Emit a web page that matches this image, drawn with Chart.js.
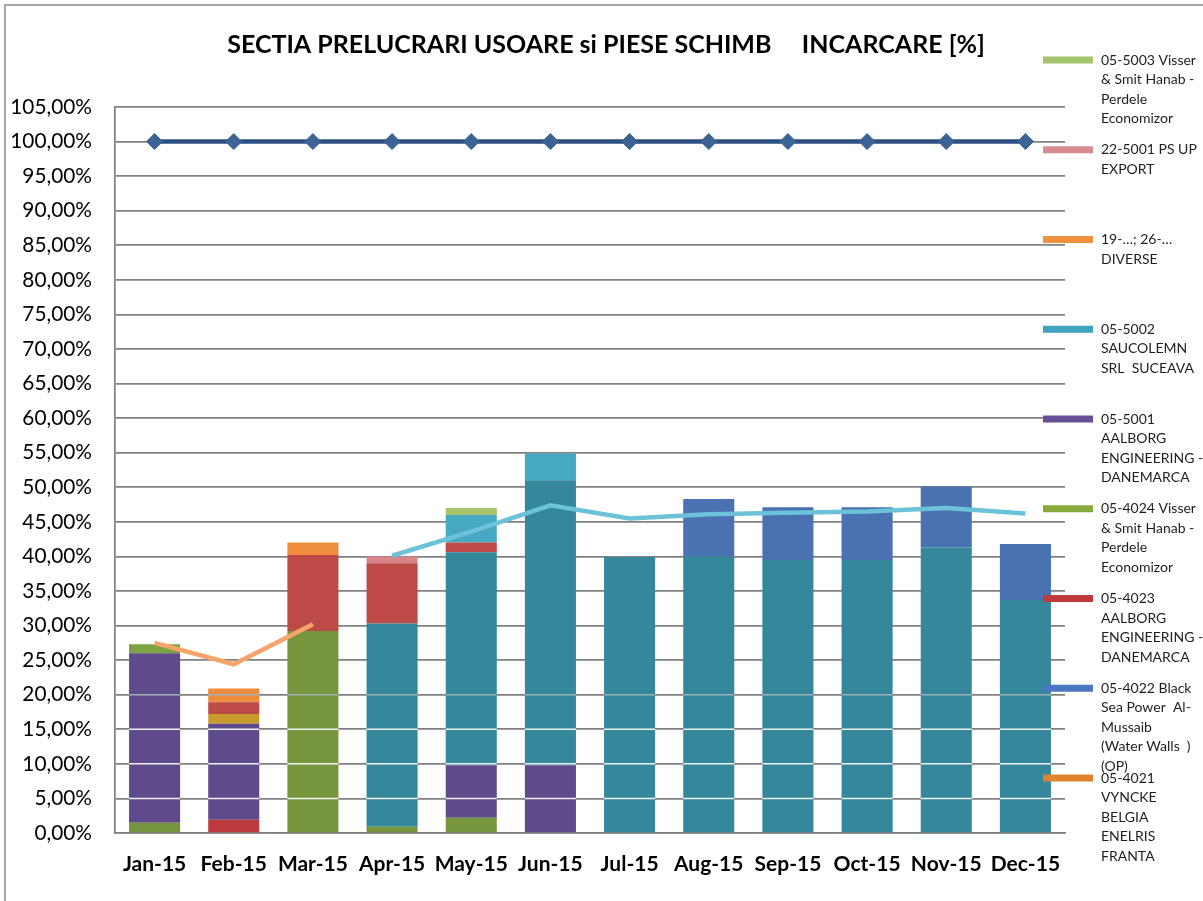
<!DOCTYPE html>
<html>
<head>
<meta charset="utf-8">
<script src="https://cdn.jsdelivr.net/npm/chart.js@4.4.1/dist/chart.umd.min.js"></script>
<style>
  html, body { margin: 0; padding: 0; background: #fff; }
</style>
</head>
<body>
<canvas id="chart" width="1203" height="901"></canvas>
<script>
const months = ['Jan-15', 'Feb-15', 'Mar-15', 'Apr-15', 'May-15', 'Jun-15', 'Jul-15', 'Aug-15', 'Sep-15', 'Oct-15', 'Nov-15', 'Dec-15'];

// stacked columns, bottom to top (% load)
const red4023Low = [0, 1.9, 0, 0, 0, 0, 0, 0, 0, 0, 0, 0];
const green4024 = [1.5, 0, 29.2, 0.9, 2.2, 0, 0, 0, 0, 0, 0, 0];
const purple5001 = [24.5, 13.9, 0, 0, 7.6, 9.8, 0, 0, 0, 0, 0, 0];
const vyncke4021 = [0, 1.4, 0, 0, 0, 0, 0, 0, 0, 0, 0, 0];
const tealBase = [0, 0, 0, 29.4, 30.8, 41.2, 39.9, 40.0, 39.5, 39.5, 41.3, 33.7];
const blue4022 = [0, 0, 0, 0, 0, 0, 0, 8.3, 7.6, 7.6, 8.8, 8.1];
const red4023 = [0, 1.7, 11.0, 8.7, 1.4, 0, 0, 0, 0, 0, 0, 0];
const teal5002 = [0, 0, 0, 0, 4.0, 3.9, 0, 0, 0, 0, 0, 0];
const diverse = [0, 2.0, 1.8, 0, 0, 0, 0, 0, 0, 0, 0, 0];
const export5001 = [0, 0, 0, 1.0, 0, 0, 0, 0, 0, 0, 0, 0];
const visser5003 = [1.3, 0, 0, 0, 1.0, 0, 0, 0, 0, 0, 0, 0];

// lines
const capacity = [100, 100, 100, 100, 100, 100, 100, 100, 100, 100, 100, 100];
const loadQ1 = [27.5, 24.4, 30.2, null, null, null, null, null, null, null, null, null];
const loadRest = [null, null, null, 40.1, 43.6, 47.4, 45.5, 46.1, 46.3, 46.5, 47.0, 46.2];

// legend text, top to bottom as in the picture
const legendEntries = [
  { key: 'v5003', lines: ['05-5003 Visser', '& Smit Hanab -', 'Perdele', 'Economizor'] },
  { key: 'e5001', lines: ['22-5001 PS UP', 'EXPORT'] },
  { key: 'div', lines: ['19-\u2026; 26-\u2026', 'DIVERSE'] },
  { key: 't5002', lines: ['05-5002', 'SAUCOLEMN', 'SRL  SUCEAVA'] },
  { key: 'p5001', lines: ['05-5001', 'AALBORG', 'ENGINEERING -', 'DANEMARCA'] },
  { key: 'g4024', lines: ['05-4024 Visser', '& Smit Hanab -', 'Perdele', 'Economizor'] },
  { key: 'r4023', lines: ['05-4023', 'AALBORG', 'ENGINEERING -', 'DANEMARCA'] },
  { key: 'b4022', lines: ['05-4022 Black', 'Sea Power  Al-', 'Mussaib', '(Water Walls  )', '(OP)'] },
  { key: 'v4021', lines: ['05-4021', 'VYNCKE', 'BELGIA', 'ENELRIS', 'FRANTA'] }
];

const legendColors = {
  v5003: '#a3c46c', e5001: '#d98c90', div: '#f0913d', t5002: '#3fa5bf', p5001: '#674f98',
  g4024: '#86ab3c', r4023: '#c0393b', b4022: '#4a77c4', v4021: '#e0832c'
};

const FONT = 'Lato';

function bar(key, data, color) {
  return { type: 'bar', key: key, label: key, data: data, backgroundColor: color, borderWidth: 0, order: 1, yAxisID: 'y' };
}

const datasets = [
  bar('r4023low', red4023Low, '#bc3b3e'),
  bar('g4024', green4024, '#77953d'),
  bar('p5001', purple5001, '#5f4a8b'),
  bar('v4021', vyncke4021, '#c99a2e'),
  bar('base', tealBase, '#35889b'),
  bar('b4022', blue4022, '#4a72b2'),
  bar('r4023', red4023, '#bd4a47'),
  bar('t5002', teal5002, '#47a8c3'),
  bar('div', diverse, '#ee8e3c'),
  bar('e5001', export5001, '#d6868a'),
  bar('v5003', visser5003, ['#7ba342', '#a8c46a', '#a8c46a', '#a8c46a', '#a8c46a', '#a8c46a', '#a8c46a', '#a8c46a', '#a8c46a', '#a8c46a', '#a8c46a', '#a8c46a']),
  {
    type: 'line', label: 'capacity', data: capacity, yAxisID: 'y2', order: 0,
    borderColor: '#2c5081', borderWidth: 4.5, pointStyle: 'rectRot', pointRadius: 8,
    pointBackgroundColor: '#3b6396', pointBorderColor: '#3b6396', pointBorderWidth: 1
  },
  {
    type: 'line', label: 'loadQ1', data: loadQ1, yAxisID: 'y2', order: 0,
    borderColor: '#f7a46c', borderWidth: 4.5, pointRadius: 0
  },
  {
    type: 'line', label: 'loadRest', data: loadRest, yAxisID: 'y2', order: 0,
    borderColor: '#6cc2d9', borderWidth: 4.5, pointRadius: 0
  }
];

// frame, title, grid glitches over the columns, side legend
const framePlugin = {
  id: 'frame',
  beforeDraw(chart) {
    const ctx = chart.ctx;
    ctx.save();
    ctx.fillStyle = '#fff';
    ctx.fillRect(0, 0, chart.width, chart.height);
    ctx.strokeStyle = '#a6a6a6';
    ctx.lineWidth = 2;
    ctx.beginPath();
    ctx.moveTo(5, chart.height);
    ctx.lineTo(5, 5);
    ctx.lineTo(chart.width, 5);
    ctx.stroke();
    ctx.fillStyle = '#000';
    ctx.font = 'bold 25px ' + FONT;
    ctx.textAlign = 'center';
    ctx.textBaseline = 'middle';
    ctx.fillText('SECTIA PRELUCRARI USOARE si PIESE SCHIMB     INCARCARE [%]', 606, 45);
    ctx.restore();
  },
  afterDatasetDraw(chart, args) {
    if (args.meta.type !== 'bar' || args.index !== 0) return;
    const ctx = chart.ctx;
    const y = chart.scales.y;
    const bars = chart.getDatasetMeta(0).data;
    ctx.save();
    [[5, '#eef2f3'], [10, '#eef2f3'], [15, '#eef2f3'], [20, '#9fb0b6']].forEach(([v, c]) => {
      const py = y.getPixelForValue(v);
      ctx.strokeStyle = c;
      ctx.lineWidth = 1.5;
      bars.forEach(b => {
        ctx.beginPath();
        ctx.moveTo(b.x - b.width / 2, py);
        ctx.lineTo(b.x + b.width / 2, py);
        ctx.stroke();
      });
    });
    ctx.restore();
  },
  afterDraw(chart) {
    const ctx = chart.ctx;
    ctx.save();
    ctx.font = '14px ' + FONT;
    ctx.textBaseline = 'middle';
    ctx.textAlign = 'left';
    legendEntries.forEach((item, i) => {
      const y = 60 + i * 89.75;
      ctx.fillStyle = legendColors[item.key];
      ctx.fillRect(1043, y - 3.5, 50, 7);
      ctx.fillStyle = '#1e1e1e';
      item.lines.forEach((line, j) => ctx.fillText(line, 1101, y + j * 19.5));
    });
    ctx.restore();
  }
};

new Chart(document.getElementById('chart'), {
  type: 'bar',
  data: { labels: months, datasets: datasets },
  plugins: [framePlugin],
  options: {
    responsive: false,
    animation: false,
    devicePixelRatio: 1,
    layout: { padding: { left: 0, right: 138, top: 107, bottom: 0 } },
    datasets: { bar: { categoryPercentage: 1, barPercentage: 0.645 } },
    plugins: {
      legend: { display: false },
      tooltip: { enabled: false },
      title: { display: false }
    },
    scales: {
      x: {
        stacked: true,
        grid: { display: false, drawTicks: false },
        border: { display: true, color: '#808080', width: 1.5 },
        ticks: { color: '#000', font: { family: FONT, size: 21, weight: 'bold' }, padding: 19, maxRotation: 0 },
        afterFit(scale) { scale.height = 68; }
      },
      y: {
        stacked: true,
        min: 0,
        max: 105,
        grid: { color: '#808080', lineWidth: 1.7, drawTicks: false },
        border: { display: true, color: '#808080', width: 1.7 },
        ticks: {
          stepSize: 5,
          color: '#000',
          padding: 23,
          font: { family: FONT, size: 20.8 },
          callback: v => v.toFixed(2).replace('.', ',') + '%'
        },
        afterFit(scale) { scale.width = 115; }
      },
      y2: { display: false, min: 0, max: 105 }
    }
  }
});
</script>
</body>
</html>
